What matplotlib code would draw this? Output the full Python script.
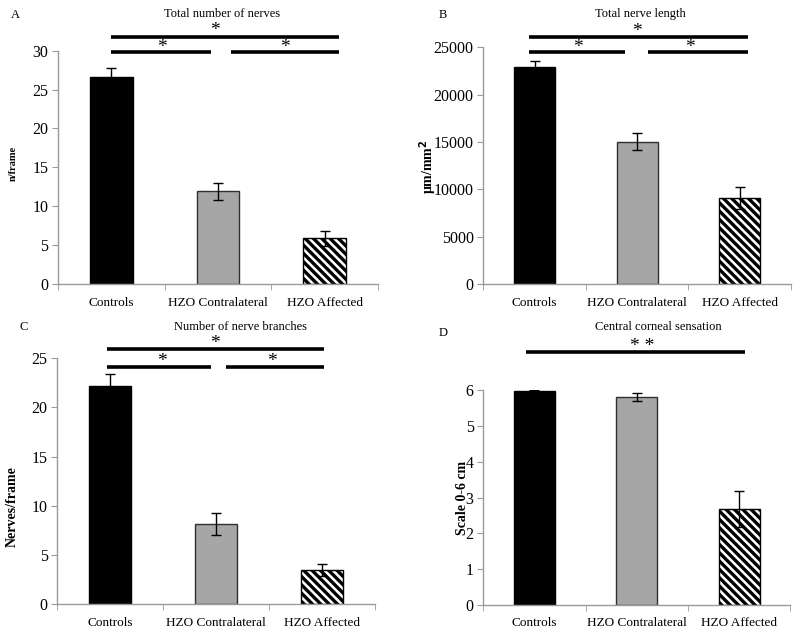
import numpy as np
import matplotlib
matplotlib.use('Agg')
import matplotlib.pyplot as plt

plt.rcParams['font.family'] = ['Liberation Serif', 'DejaVu Serif']
plt.rcParams['hatch.linewidth'] = 2.4

groups = ['Controls', 'HZO Contralateral', 'HZO Affected']

nerves_mean = [26.65, 11.9, 5.87]
nerves_err = [1.15, 1.15, 0.95]

length_mean = [22890, 15030, 9080]
length_err = [630, 900, 1150]

branches_mean = [22.2, 8.14, 3.46]
branches_err = [1.2, 1.1, 0.65]

sensation_mean = [5.97, 5.8, 2.69]
sensation_err = [0.03, 0.11, 0.5]

W, H = 800, 635
fig = plt.figure(figsize=(W / 100, H / 100), dpi=100)


def box(l, r, t, b):
    return [l / W, 1 - b / H, (r - l) / W, (b - t) / H]


def panel(rect, means, errs, ymax, yticks, title, title_x, letter, letter_xy, ylabel, ylabel_xy, ylabel_size):
    ax = fig.add_axes(rect)
    x = np.arange(len(groups))
    ax.bar(x, means, width=0.40, color=['black', '#a6a6a6', 'white'],
           edgecolor=['black', '#303030', 'black'], linewidth=1.0, zorder=2)
    ax.patches[2].set_hatch('\\\\\\\\')
    ax.errorbar(x, means, yerr=errs, fmt='none', ecolor='black', elinewidth=1.0,
                capsize=3.5, capthick=1.0, zorder=3)
    ax.set_xlim(-0.5, 2.5)
    ax.set_ylim(0, ymax)
    ax.set_yticks(yticks)
    ax.set_yticklabels([str(v) for v in yticks], fontsize=11.5)
    ax.set_xticks(x)
    ax.set_xticklabels(groups, fontsize=9.5)
    ax.set_xticks([-0.5, 0.5, 1.5, 2.5], minor=True)
    ax.tick_params(axis='x', which='major', length=0, pad=9)
    ax.tick_params(axis='x', which='minor', length=4, color='#9a9a9a')
    ax.tick_params(axis='y', length=4, color='#9a9a9a', pad=3)
    for s in ['top', 'right']:
        ax.spines[s].set_visible(False)
    for s in ['left', 'bottom']:
        ax.spines[s].set_color('#9a9a9a')
        ax.spines[s].set_linewidth(1.0)
    fig.text(title_x / W, 1 - 14 / H if rect[1] > 0.5 else 1 - 327 / H, title,
             ha='center', va='center', fontsize=9)
    fig.text(letter_xy[0] / W, 1 - letter_xy[1] / H, letter, ha='center', va='center', fontsize=9)
    fig.text(ylabel_xy[0] / W, 1 - ylabel_xy[1] / H, ylabel, rotation=90, ha='center', va='center',
             fontsize=ylabel_size, fontweight='bold')
    return ax


def bracket(ax, x0, x1, y):
    ax.plot([x0, x1], [y, y], color='black', linewidth=2.6, solid_capstyle='butt', clip_on=False)


def star(ax, x, y, s='*'):
    ax.text(x, y, s, ha='center', va='center', fontsize=14, clip_on=False)


# A
axA = panel(box(58, 378, 50.7, 284), nerves_mean, nerves_err, 30, [0, 5, 10, 15, 20, 25, 30],
            'Total number of nerves', 222, 'A', (15, 15), 'n/frame', (13, 163), 7.5)
bracket(axA, 0.0, 2.135, 31.7)
bracket(axA, 0.0, 0.935, 29.87)
bracket(axA, 1.12, 2.135, 29.87)
star(axA, 0.97, 32.6)
star(axA, 0.47, 30.4)
star(axA, 1.63, 30.4)

# B
axB = panel(box(483.3, 790.8, 47.3, 284), length_mean, length_err, 25000,
            [0, 5000, 10000, 15000, 20000, 25000],
            'Total nerve length', 640, 'B', (443, 15), 'μm/mm$\\mathbf{^2}$', (428, 167), 10)
bracket(axB, -0.05, 2.08, 26056)
bracket(axB, -0.05, 0.88, 24535)
bracket(axB, 1.11, 2.08, 24535)
star(axB, 1.0, 26700)
star(axB, 0.42, 25000)
star(axB, 1.52, 25000)

# C
axC = panel(box(57.3, 374.8, 358.3, 604), branches_mean, branches_err, 25, [0, 5, 10, 15, 20, 25],
            'Number of nerve branches', 241, 'C', (24, 327), 'Nerves/frame', (12.7, 507), 10)
bracket(axC, -0.03, 2.02, 25.94)
bracket(axC, -0.03, 0.95, 24.14)
bracket(axC, 1.09, 2.02, 24.14)
star(axC, 0.99, 26.5)
star(axC, 0.49, 24.7)
star(axC, 1.53, 24.7)

# D (label sits over the tick labels, as in the source figure)
axD = panel(box(483.3, 790.3, 390, 605), sensation_mean, sensation_err, 6, [0, 1, 2, 3, 4, 5, 6],
            'Central corneal sensation', 658, 'D', (443, 333), 'Scale 0-6 cm', (463, 498), 10)
bracket(axD, -0.08, 2.06, 7.05)
star(axD, 1.05, 7.22, '* *')

fig.savefig('out.png', dpi=100)
